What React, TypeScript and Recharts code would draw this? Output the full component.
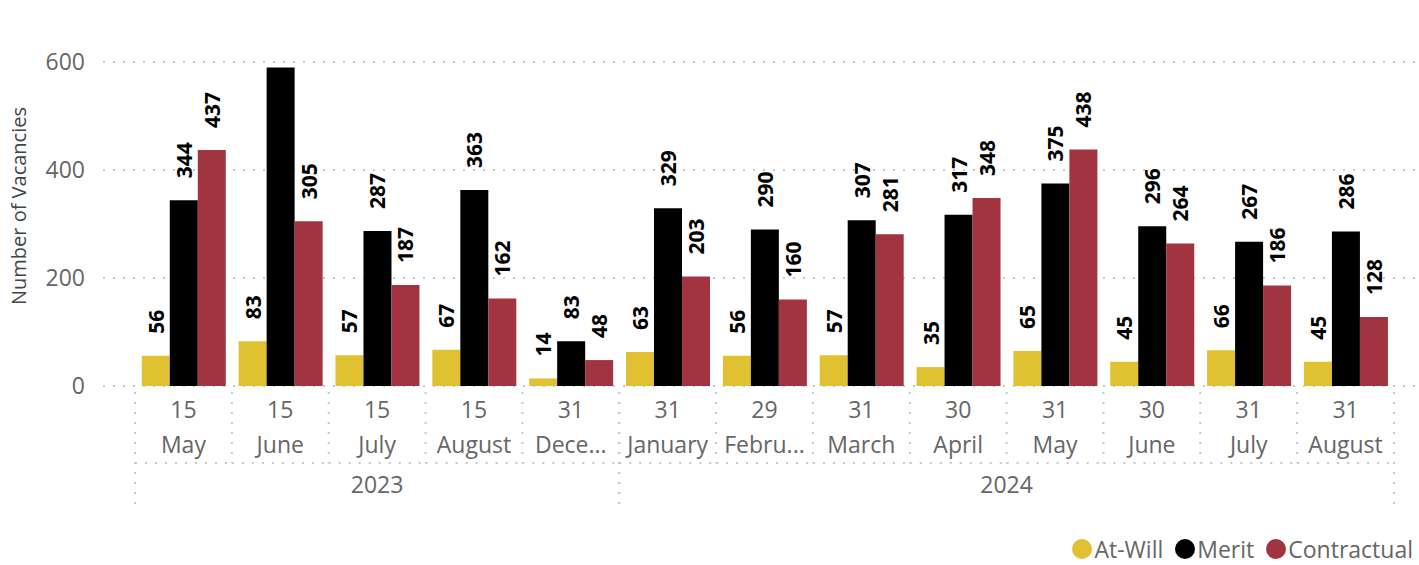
import { BarChart, Bar, XAxis, YAxis, CartesianGrid, Legend, LabelList } from 'recharts';

const days = ['15', '15', '15', '15', '31', '31', '29', '31', '30', '31', '30', '31', '31'];
const months = ['May', 'June', 'July', 'August', 'Dece...', 'January', 'Febru...', 'March', 'April', 'May', 'June', 'July', 'August'];
const years = ['2023', '2023', '2023', '2023', '2023', '2024', '2024', '2024', '2024', '2024', '2024', '2024', '2024'];
const atWill = [56, 83, 57, 67, 14, 63, 56, 57, 35, 65, 45, 66, 45];
const merit = [344, 590, 287, 363, 83, 329, 290, 307, 317, 375, 296, 267, 286];
const contractual = [437, 305, 187, 162, 48, 203, 160, 281, 348, 438, 264, 186, 128];

const yTicks = [0, 200, 400, 600];

const COLORS = { atWill: '#E0C132', merit: '#000000', contractual: '#A2343F' };
const FONT = '"Open Sans", "Noto Sans", sans-serif';
const GRID = '#c8c8c8';

const data = days.map((d, i) => ({
  key: `${years[i]}-${i}`,
  atWill: atWill[i],
  merit: merit[i],
  contractual: contractual[i],
}));

// year groups: first and last index of each year
const yearGroups = years.reduce((acc: { year: string; start: number; end: number }[], y, i) => {
  const last = acc[acc.length - 1];
  if (last && last.year === y) last.end = i;
  else acc.push({ year: y, start: i, end: i });
  return acc;
}, []);

const BarLabel = (props: any) => {
  const { x, y, width, value } = props;
  // Power BI drops labels that do not fit above the bar
  if (y < 95) return null;
  const cx = x + width / 2;
  const ly = y - 22;
  return (
    <text
      x={cx}
      y={ly}
      transform={`rotate(-90, ${cx}, ${ly})`}
      textAnchor="start"
      dominantBaseline="central"
      fontFamily={FONT}
      fontWeight={700}
      fontSize={21}
      fill="#000"
    >
      {value}
    </text>
  );
};

const DateTick = (props: any) => {
  const { x, y, payload, width, visibleTicksCount } = props;
  const i = payload.index;
  const half = typeof payload.offset === 'number' && payload.offset > 0
    ? payload.offset
    : (width - 32 - 21) / visibleTicksCount / 2;
  const group = yearGroups.find(g => g.start <= i && i <= g.end)!;
  const isStart = group.start === i;
  const isEnd = group.end === i;
  const len = group.end - group.start + 1;
  let yearX: number | null = null;
  if (len % 2 === 1 && i === group.start + (len - 1) / 2) yearX = x;
  if (len % 2 === 0 && i === group.start + len / 2 - 1) yearX = x + half;
  const dots = { stroke: GRID, strokeWidth: 2, strokeDasharray: '2 8' };
  return (
    <g>
      <line x1={x - half} x2={x - half} y1={y + 6} y2={y + (isStart ? 121 : 77)} {...dots} />
      {isEnd && <line x1={x + half} x2={x + half} y1={y + 6} y2={y + 121} {...dots} />}
      <line x1={x - half} x2={x + half} y1={y + 77} y2={y + 77} {...dots} />
      <text x={x} y={y + 32} textAnchor="middle" fontFamily={FONT} fontSize={23} fill="#666">
        {days[i]}
      </text>
      <text x={x} y={y + 67} textAnchor="middle" fontFamily={FONT} fontSize={23} fill="#666">
        {months[i]}
      </text>
      {yearX !== null && (
        <text x={yearX} y={y + 107} textAnchor="middle" fontFamily={FONT} fontSize={23} fill="#666">
          {group.year}
        </text>
      )}
    </g>
  );
};

const legendItems = [
  { name: 'At-Will', color: COLORS.atWill },
  { name: 'Merit', color: COLORS.merit },
  { name: 'Contractual', color: COLORS.contractual },
];

const LegendContent = () => (
  <div style={{ display: 'flex', alignItems: 'center', height: 30, fontFamily: FONT, fontSize: 23, color: '#666' }}>
    {legendItems.map(item => (
      <div key={item.name} style={{ display: 'flex', alignItems: 'center', marginLeft: 12 }}>
        <span style={{ width: 20, height: 20, borderRadius: 10, background: item.color, marginRight: 2 }} />
        <span>{item.name}</span>
      </div>
    ))}
  </div>
);

const YLabel = (props: any) => {
  const { viewBox } = props;
  const cx = viewBox.x + 18;
  const cy = viewBox.y + viewBox.height / 2 - 18;
  return (
    <text
      x={cx}
      y={cy}
      transform={`rotate(-90, ${cx}, ${cy})`}
      textAnchor="middle"
      dominantBaseline="central"
      fontFamily={FONT}
      fontSize={20}
      fill="#444"
    >
      Number of Vacancies
    </text>
  );
};

export default function App() {
  return (
    <div style={{ position: 'absolute', left: 0, top: 0, background: '#fff' }}>
      <BarChart
        width={1419}
        height={565}
        data={data}
        margin={{ top: 62, right: 4, bottom: 0, left: 0 }}
        barGap={0}
        barCategoryGap="7%"
      >
        <CartesianGrid vertical={false} stroke={GRID} strokeWidth={2} strokeDasharray="2 8" />
        <XAxis
          dataKey="key"
          interval={0}
          axisLine={false}
          tickLine={false}
          tickSize={0}
          tickMargin={0}
          height={149}
          padding={{ left: 32, right: 21 }}
          tick={<DateTick />}
        />
        <YAxis
          domain={[0, 600]}
          ticks={yTicks}
          width={103}
          axisLine={false}
          tickLine={false}
          tickMargin={12}
          tick={{ fontFamily: FONT, fontSize: 23, fill: '#666' }}
          label={<YLabel />}
        />
        <Legend
          verticalAlign="bottom"
          align="right"
          content={<LegendContent />}
          wrapperStyle={{ right: 6, bottom: 1, height: 30, width: 'auto' }}
        />
        <Bar dataKey="atWill" name="At-Will" fill={COLORS.atWill} isAnimationActive={false}>
          <LabelList dataKey="atWill" content={<BarLabel />} />
        </Bar>
        <Bar dataKey="merit" name="Merit" fill={COLORS.merit} isAnimationActive={false}>
          <LabelList dataKey="merit" content={<BarLabel />} />
        </Bar>
        <Bar dataKey="contractual" name="Contractual" fill={COLORS.contractual} isAnimationActive={false}>
          <LabelList dataKey="contractual" content={<BarLabel />} />
        </Bar>
      </BarChart>
    </div>
  );
}
